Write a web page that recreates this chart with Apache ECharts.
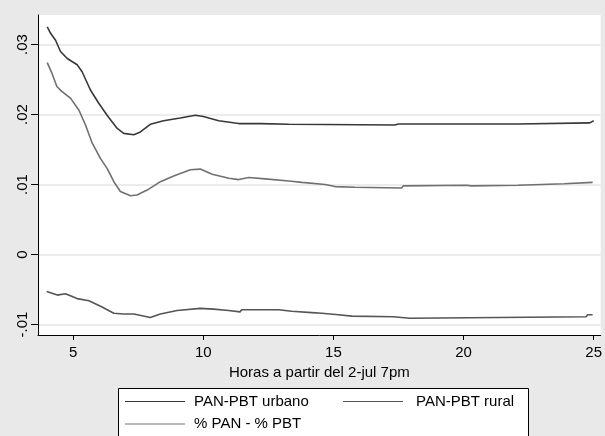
<!DOCTYPE html>
<html><head><meta charset="utf-8">
<script src="https://cdn.jsdelivr.net/npm/echarts@6/dist/echarts.min.js"></script>
<style>html,body{margin:0;padding:0;background:#e9e9e9}#c{width:605px;height:436px}</style>
</head><body><div id="c"></div>
<script>
const xTicks = [5, 10, 15, 20, 25];
const yTicks = [-0.01, 0, 0.01, 0.02, 0.03];
const yTickLabels = ['-.01', '0', '.01', '.02', '.03'];
const xTitle = 'Horas a partir del 2-jul 7pm';
const seriesNames = ['PAN-PBT urbano', 'PAN-PBT rural', '% PAN - % PBT'];

const urbanoHours = [4.0,4.13,4.32,4.51,4.77,5.15,5.34,5.66,5.98,6.30,6.69,6.94,7.33,7.58,7.96,8.47,9.11,9.69,10.0,10.59,11.36,12.19,13.28,13.34,17.36,17.49,22.1,22.15,24.85,25.0];
const urbanoValues = [.0325,.0316,.0306,.0290,.0280,.0271,.0261,.0235,.0216,.0199,.0180,.0173,.0171,.0175,.0186,.0191,.0195,.0199,.0197,.0191,.0187,.0187,.0186,.0185,.0185,.01865,.01865,.0188,.0188,.0191];

const pctHours = [4.0,4.18,4.37,4.56,4.90,5.22,5.47,5.73,6.05,6.30,6.56,6.81,7.20,7.45,7.84,8.35,8.86,9.50,9.88,10.34,10.98,11.36,11.74,12.38,13.28,13.79,14.68,15.06,15.83,17.62,17.68,20.11,20.3,22.09,22.15,23.87,23.94,24.96];
const pctValues = [.0274,.0259,.0240,.0233,.0223,.0206,.0185,.0159,.0137,.0123,.0104,.0090,.0084,.0085,.0092,.0104,.0112,.0121,.0122,.01146,.0109,.0107,.0110,.0108,.0105,.0103,.0100,.0097,.0096,.0095,.0098,.0099,.0098,.0099,.0100,.0101,.0102,.0103];

const ruralHours = [3.98,4.39,4.70,5.15,5.60,6.05,6.56,6.94,7.33,7.96,8.35,8.99,9.88,10.39,10.97,11.41,11.47,12.89,13.40,14.17,14.55,15.19,15.70,17.30,17.36,17.94,18.0,24.71,24.77,24.96];
const ruralValues = [-.0053,-.0058,-.0056,-.0063,-.0066,-.0074,-.0084,-.0085,-.0085,-.0090,-.0085,-.0080,-.0077,-.0078,-.0080,-.0082,-.0079,-.0079,-.0081,-.0083,-.0084,-.0086,-.0088,-.0089,-.0091,-.0091,-.0089,-.0089,-.0086,-.0086];

function zip(a, b) { return a.map((v, i) => [v, b[i]]); }

const font = 'Liberation Sans, Arial, sans-serif';
const legendBase = {
  orient: 'vertical', padding: 0, itemGap: 7.5,
  itemWidth: 60, itemHeight: 14,
  icon: 'path://M0,0H60V1H0Z',
  textStyle: {color: '#000', fontSize: 15, fontFamily: font, padding: [0, 0, 0, 4]}
};
const chart = echarts.init(document.getElementById('c'), null, {renderer: 'canvas'});
chart.setOption({
  backgroundColor: '#e9e9e9',
  animation: false,
  grid: {left: 38, top: 15, right: 0, bottom: 101, show: true, backgroundColor: '#ffffff', borderWidth: 0},
  graphic: [{type: 'rect', z: 1, shape: {x: 118.5, y: 388.5, width: 410, height: 70},
    style: {fill: '#ffffff', stroke: '#000000', lineWidth: 1}}],
  xAxis: {
    type: 'value', min: 3.645, max: 25.27,
    axisLine: {show: true, onZero: false, lineStyle: {color: '#000', width: 1}},
    axisTick: {show: true, length: 5, customValues: xTicks, lineStyle: {color: '#000'}},
    axisLabel: {customValues: xTicks, margin: 10, color: '#000', fontSize: 15, fontFamily: font},
    splitLine: {show: false},
    name: xTitle, nameLocation: 'middle', nameGap: 27,
    nameTextStyle: {color: '#000', fontSize: 15, fontFamily: font}
  },
  yAxis: {
    type: 'value', min: -0.0115, max: 0.03421,
    axisLine: {show: true, onZero: false, lineStyle: {color: '#000', width: 1}},
    axisTick: {show: true, length: 7, customValues: yTicks, lineStyle: {color: '#000'}},
    axisLabel: {customValues: yTicks, rotate: 90, margin: 8, color: '#000', fontSize: 15, fontFamily: font,
      formatter: v => { const i = yTicks.findIndex(t => Math.abs(t - v) < 1e-9); return i >= 0 ? yTickLabels[i] : ''; }},
    splitLine: {show: true, lineStyle: {color: '#e6e6e6', width: 1.5}}
  },
  legend: [
    Object.assign({left: 125, top: 394, data: [seriesNames[0], seriesNames[2]]}, legendBase),
    Object.assign({left: 343, top: 394, data: [seriesNames[1]]}, legendBase, {textStyle: {color: '#000', fontSize: 15, fontFamily: font, padding: [0, 0, 0, 8]}})
  ],
  series: [
    {name: seriesNames[0], type: 'line', data: zip(urbanoHours, urbanoValues), showSymbol: false, symbol: 'none',
      lineStyle: {color: '#383838', width: 1.6}, itemStyle: {color: '#383838'}},
    {name: seriesNames[1], type: 'line', data: zip(ruralHours, ruralValues), showSymbol: false, symbol: 'none',
      lineStyle: {color: '#555555', width: 1.6}, itemStyle: {color: '#555555'}},
    {name: seriesNames[2], type: 'line', data: zip(pctHours, pctValues), showSymbol: false, symbol: 'none',
      lineStyle: {color: '#707070', width: 1.6}, itemStyle: {color: '#707070'}}
  ]
});
</script></body></html>
